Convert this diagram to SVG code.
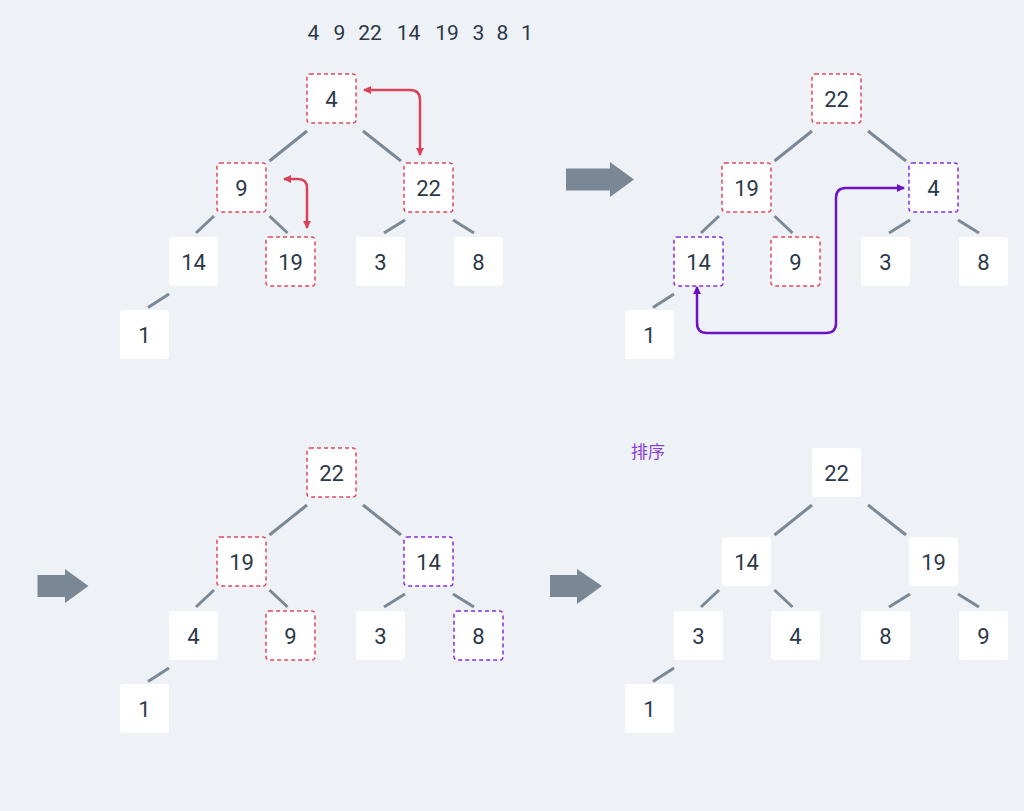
<svg xmlns="http://www.w3.org/2000/svg" width="1024" height="811" viewBox="0 0 1024 811">
<style>
.bg{fill:#eef2f6}
.box{fill:#ffffff;rx:3px}
.red{stroke:#e0485f;stroke-width:1.5;stroke-dasharray:4 3}
.pur{stroke:#8a2be2;stroke-width:1.5;stroke-dasharray:4 3}
.num{font-family:Roboto,"Liberation Sans",sans-serif;font-size:22px;fill:#2b3848;text-anchor:middle}
.seq{font-family:Roboto,"Liberation Sans",sans-serif;font-size:21px;fill:#2b3848;text-anchor:middle}
.edge{stroke:#7b8896;stroke-width:3;fill:none}
.big{fill:#7a8794}
.swapR{stroke:#d9435a;stroke-width:2.5;fill:none;marker-start:url(#ar);marker-end:url(#ar)}
.swapP{stroke:#6c12c6;stroke-width:2.5;fill:none;marker-start:url(#ap);marker-end:url(#ap)}
.lbl{font-family:"Noto Sans CJK SC",sans-serif;font-size:17px;fill:#8a3fd6}
</style>
<defs>
<marker id="ar" viewBox="0 0 8 8" refX="7" refY="4" markerWidth="8" markerHeight="8" markerUnits="userSpaceOnUse" orient="auto-start-reverse"><path d="M0,0 L8,4 L0,8 z" fill="#d9435a"/></marker>
<marker id="ap" viewBox="0 0 8 8" refX="7" refY="4" markerWidth="8" markerHeight="8" markerUnits="userSpaceOnUse" orient="auto-start-reverse"><path d="M0,0 L8,4 L0,8 z" fill="#6c12c6"/></marker>
<g id="edges">
<line x1="307" y1="131" x2="269.5" y2="161"/>
<line x1="363" y1="131" x2="401" y2="161"/>
<line x1="214" y1="216" x2="196" y2="233"/>
<line x1="269.5" y1="216" x2="287.5" y2="233"/>
<line x1="405" y1="220" x2="384" y2="233"/>
<line x1="453" y1="220" x2="474" y2="233"/>
<line x1="169" y1="294" x2="148" y2="307.5"/>
</g>
</defs>
<rect class="bg" x="0" y="0" width="1024" height="811"/>

<text id="sequence" class="seq" y="40"><tspan x="313.5">4</tspan><tspan x="339.5">9</tspan><tspan x="370">22</tspan><tspan x="408.5">14</tspan><tspan x="447">19</tspan><tspan x="478.5">3</tspan><tspan x="502.5">8</tspan><tspan x="527">1</tspan></text>

<g id="connectors">
<use href="#edges" class="edge"/>
<use href="#edges" class="edge" transform="translate(505,0)"/>
<use href="#edges" class="edge" transform="translate(0,374)"/>
<use href="#edges" class="edge" transform="translate(505,374)"/>
<path class="swapR" d="M420,155 L420,100 Q420,90 410,90 L364,90"/>
<path class="swapR" d="M307,228 L307,188 Q307,179 298,179 L284,179"/>
<path class="swapP" d="M697,287 L697,323 Q697,333 707,333 L826,333 Q836,333 836,323 L836,198 Q836,188 846,188 L904,188"/>
<path class="big" d="M566,168.5 H610 V162 L634,179.5 L610,197 V190.5 H566 z"/>
<path class="big" d="M37.5,575 H65 V569 L88.5,586 L65,603 V597 H37.5 z"/>
<path class="big" d="M550,575 H577 V569 L602,586 L577,604 V597 H550 z"/>
</g>

<text id="label-sort" class="lbl" x="631" y="458">排序</text>

<g id="tree1">
<g id="t1-n4"><rect class="box red" x="307" y="74" width="49" height="49"/><text class="num" x="331.5" y="106.5">4</text></g>
<g id="t1-n9"><rect class="box red" x="217" y="163" width="49" height="49"/><text class="num" x="241.5" y="195.5">9</text></g>
<g id="t1-n22"><rect class="box red" x="404" y="163" width="49" height="49"/><text class="num" x="428.5" y="195.5">22</text></g>
<g id="t1-n14"><rect class="box" x="169" y="237" width="49" height="49"/><text class="num" x="193.5" y="269.5">14</text></g>
<g id="t1-n19"><rect class="box red" x="266" y="237" width="49" height="49"/><text class="num" x="290.5" y="269.5">19</text></g>
<g id="t1-n3"><rect class="box" x="356" y="237" width="49" height="49"/><text class="num" x="380.5" y="269.5">3</text></g>
<g id="t1-n8"><rect class="box" x="454" y="237" width="49" height="49"/><text class="num" x="478.5" y="269.5">8</text></g>
<g id="t1-n1"><rect class="box" x="120" y="310" width="49" height="49"/><text class="num" x="144.5" y="342.5">1</text></g>
</g>

<g id="tree2" transform="translate(505,0)">
<g id="t2-n22"><rect class="box red" x="307" y="74" width="49" height="49"/><text class="num" x="331.5" y="106.5">22</text></g>
<g id="t2-n19"><rect class="box red" x="217" y="163" width="49" height="49"/><text class="num" x="241.5" y="195.5">19</text></g>
<g id="t2-n4"><rect class="box pur" x="404" y="163" width="49" height="49"/><text class="num" x="428.5" y="195.5">4</text></g>
<g id="t2-n14"><rect class="box pur" x="169" y="237" width="49" height="49"/><text class="num" x="193.5" y="269.5">14</text></g>
<g id="t2-n9"><rect class="box red" x="266" y="237" width="49" height="49"/><text class="num" x="290.5" y="269.5">9</text></g>
<g id="t2-n3"><rect class="box" x="356" y="237" width="49" height="49"/><text class="num" x="380.5" y="269.5">3</text></g>
<g id="t2-n8"><rect class="box" x="454" y="237" width="49" height="49"/><text class="num" x="478.5" y="269.5">8</text></g>
<g id="t2-n1"><rect class="box" x="120" y="310" width="49" height="49"/><text class="num" x="144.5" y="342.5">1</text></g>
</g>

<g id="tree3" transform="translate(0,374)">
<g id="t3-n22"><rect class="box red" x="307" y="74" width="49" height="49"/><text class="num" x="331.5" y="106.5">22</text></g>
<g id="t3-n19"><rect class="box red" x="217" y="163" width="49" height="49"/><text class="num" x="241.5" y="195.5">19</text></g>
<g id="t3-n14"><rect class="box pur" x="404" y="163" width="49" height="49"/><text class="num" x="428.5" y="195.5">14</text></g>
<g id="t3-n4"><rect class="box" x="169" y="237" width="49" height="49"/><text class="num" x="193.5" y="269.5">4</text></g>
<g id="t3-n9"><rect class="box red" x="266" y="237" width="49" height="49"/><text class="num" x="290.5" y="269.5">9</text></g>
<g id="t3-n3"><rect class="box" x="356" y="237" width="49" height="49"/><text class="num" x="380.5" y="269.5">3</text></g>
<g id="t3-n8"><rect class="box pur" x="454" y="237" width="49" height="49"/><text class="num" x="478.5" y="269.5">8</text></g>
<g id="t3-n1"><rect class="box" x="120" y="310" width="49" height="49"/><text class="num" x="144.5" y="342.5">1</text></g>
</g>

<g id="tree4" transform="translate(505,374)">
<g id="t4-n22"><rect class="box" x="307" y="74" width="49" height="49"/><text class="num" x="331.5" y="106.5">22</text></g>
<g id="t4-n14"><rect class="box" x="217" y="163" width="49" height="49"/><text class="num" x="241.5" y="195.5">14</text></g>
<g id="t4-n19"><rect class="box" x="404" y="163" width="49" height="49"/><text class="num" x="428.5" y="195.5">19</text></g>
<g id="t4-n3"><rect class="box" x="169" y="237" width="49" height="49"/><text class="num" x="193.5" y="269.5">3</text></g>
<g id="t4-n4"><rect class="box" x="266" y="237" width="49" height="49"/><text class="num" x="290.5" y="269.5">4</text></g>
<g id="t4-n8"><rect class="box" x="356" y="237" width="49" height="49"/><text class="num" x="380.5" y="269.5">8</text></g>
<g id="t4-n9"><rect class="box" x="454" y="237" width="49" height="49"/><text class="num" x="478.5" y="269.5">9</text></g>
<g id="t4-n1"><rect class="box" x="120" y="310" width="49" height="49"/><text class="num" x="144.5" y="342.5">1</text></g>
</g>
</svg>
